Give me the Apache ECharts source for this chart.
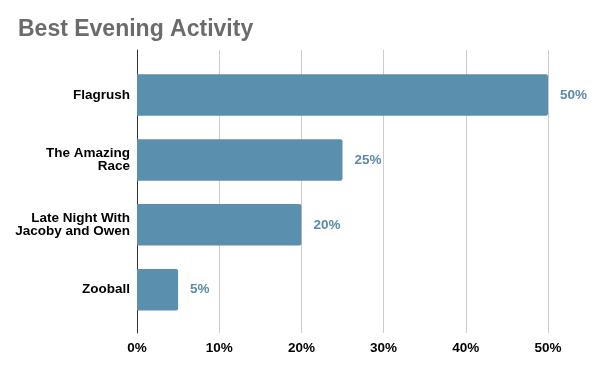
<!DOCTYPE html>
<html><head><meta charset="utf-8">
<script src="https://cdn.jsdelivr.net/npm/echarts@6/dist/echarts.min.js"></script>
<style>html,body{margin:0;padding:0;background:#fff}#c{width:600px;height:371px}</style>
</head><body><div id="c"></div>
<script>
const title = "Best Evening Activity";
const categories = ["Flagrush", "The Amazing\nRace", "Late Night With\nJacoby and Owen", "Zooball"];
const values = [50, 25, 20, 5];
const xTicks = [0, 10, 20, 30, 40, 50];

const font = "Liberation Sans, Arial, sans-serif";
const chart = echarts.init(document.getElementById('c'), null, {renderer: 'canvas'});
chart.setOption({
  animation: false,
  backgroundColor: '#fff',
  title: {
    text: title, left: 13, top: 13,
    textStyle: {fontFamily: font, fontWeight: 'bold', fontSize: 23, color: '#6b6b6b'}
  },
  grid: [
    {left: 137, right: 52, top: 50, bottom: 38},
    {left: 137, right: 52, top: 62.6, bottom: 48.8}
  ],
  xAxis: [
    {gridIndex: 0, type: 'value', min: xTicks[0], max: xTicks[xTicks.length - 1], interval: 10,
      axisLine: {show: false}, axisTick: {show: false},
      splitLine: {show: true, lineStyle: {color: '#cccccc', width: 1}},
      axisLabel: {formatter: '{value}%', color: '#000', fontFamily: font, fontWeight: 'bold', fontSize: 13.5, margin: 8}},
    {gridIndex: 1, type: 'value', min: xTicks[0], max: xTicks[xTicks.length - 1], show: false}
  ],
  yAxis: [
    {gridIndex: 0, type: 'category', data: [''], axisLine: {show: true, lineStyle: {color: '#333', width: 1}},
      axisTick: {show: false}, axisLabel: {show: false}, splitLine: {show: false}},
    {gridIndex: 1, type: 'category', data: categories, inverse: true,
      axisLine: {show: false}, axisTick: {show: false},
      axisLabel: {color: '#000', fontFamily: font, fontWeight: 'bold', fontSize: 13.5, lineHeight: 12.5, margin: 7, align: 'right'}}
  ],
  series: [{
    type: 'bar', xAxisIndex: 1, yAxisIndex: 1, data: values,
    barCategoryGap: '36%',
    itemStyle: {color: '#5b8fae', borderRadius: [0, 2, 2, 0]},
    label: {show: true, position: 'right', distance: 12, formatter: '{c}%',
      color: '#5b8aa8', fontFamily: font, fontWeight: 'bold', fontSize: 13.5}
  }]
});
</script></body></html>
